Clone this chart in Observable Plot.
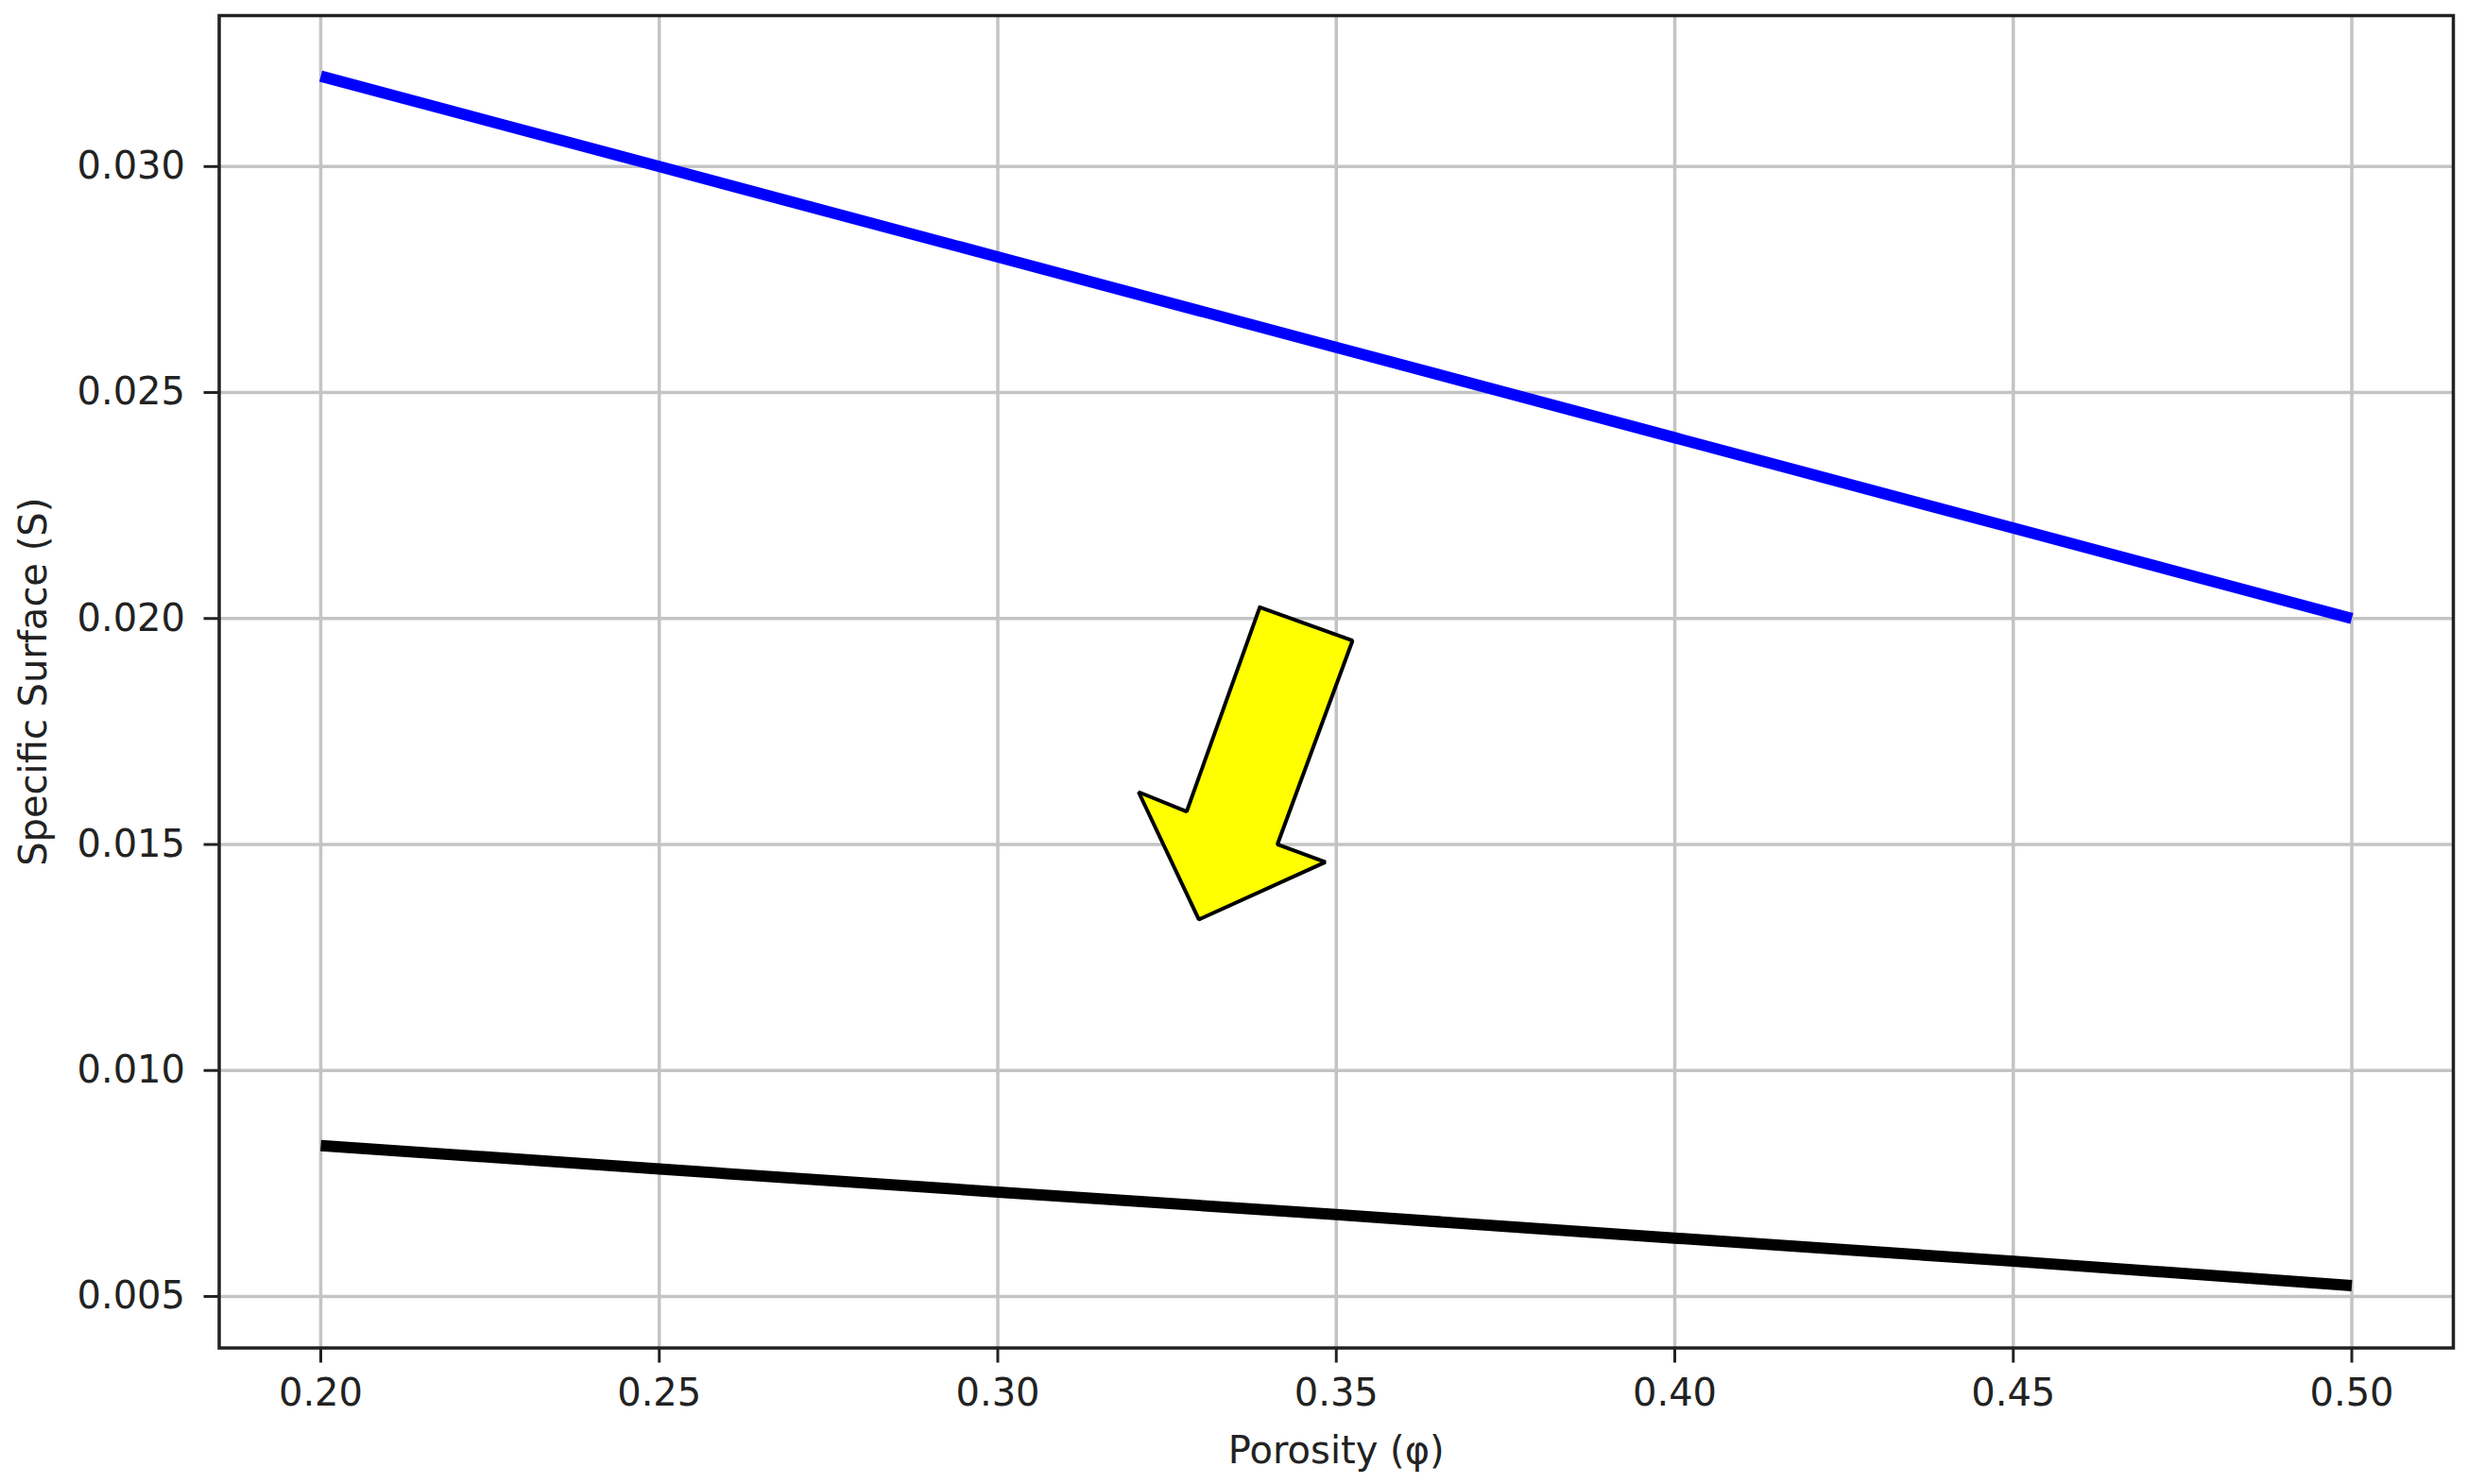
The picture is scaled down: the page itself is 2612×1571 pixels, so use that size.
<!DOCTYPE html>
<html>
<head>
<meta charset="utf-8">
<script src="https://cdn.jsdelivr.net/npm/d3@7"></script>
<script src="https://cdn.jsdelivr.net/npm/@observablehq/plot@0.6"></script>
<style>
  html, body { margin: 0; padding: 0; background: #fff; }
  svg { display: block; }
</style>
</head>
<body>
<div id="chart"></div>
<script>
// Data
const porosity = [0.20, 0.25, 0.30, 0.35, 0.40, 0.45, 0.50];
const surfaceBlue = [0.0320, 0.0300, 0.0280, 0.0260, 0.0240, 0.0220, 0.0200];
const surfaceBlack = [0.00834, 0.00782, 0.00731, 0.00681, 0.00629, 0.00578, 0.00524];

// Annotation arrow outline (data coordinates)
const arrowX = [0.3387, 0.3524, 0.3413, 0.3484, 0.3297, 0.3208, 0.3279, 0.3387];
const arrowY = [0.02025, 0.01951, 0.01500, 0.01461, 0.01334, 0.01616, 0.01573, 0.02025];

const xTicks = [0.20, 0.25, 0.30, 0.35, 0.40, 0.45, 0.50];
const yTicks = [0.005, 0.010, 0.015, 0.020, 0.025, 0.030];

const xLabel = "Porosity (φ)";
const yLabel = "Specific Surface (S)";

const blueData = porosity.map((p, i) => ({x: p, y: surfaceBlue[i]}));
const blackData = porosity.map((p, i) => ({x: p, y: surfaceBlack[i]}));
const arrowData = arrowX.map((x, i) => ({x, y: arrowY[i]}));

const chart = Plot.plot({
  width: 2612,
  height: 1571,
  marginLeft: 231.5,
  marginRight: 16,
  marginTop: 16,
  marginBottom: 144.5,
  style: {fontFamily: "DejaVu Sans", fontSize: "40px", background: "#fff", color: "#222"},
  x: {domain: [0.185, 0.515]},
  y: {domain: [0.00386, 0.03334]},
  marks: [
    Plot.gridX(xTicks, {stroke: "#c4c4c4", strokeOpacity: 1, strokeWidth: 3.5}),
    Plot.gridY(yTicks, {stroke: "#c4c4c4", strokeOpacity: 1, strokeWidth: 3.5}),
    Plot.line(blueData, {x: "x", y: "y", stroke: "#0000ff", strokeWidth: 12, strokeLinecap: "butt"}),
    Plot.line(blackData, {x: "x", y: "y", stroke: "#000", strokeWidth: 12, strokeLinecap: "butt"}),
    Plot.line(arrowData, {x: "x", y: "y", fill: "#ffff00", stroke: "#000", strokeWidth: 4, strokeLinejoin: "miter"}),
    Plot.frame({stroke: "#222", strokeWidth: 3.5}),
    Plot.axisX(xTicks, {
      tickSize: 16, tickPadding: 17, strokeWidth: 3,
      tickFormat: d3.format(".2f"), fontSize: 40,
      label: xLabel, labelAnchor: "center", labelArrow: "none", labelOffset: 122
    }),
    Plot.axisY(yTicks, {
      tickSize: 16, tickPadding: 20, strokeWidth: 3,
      tickFormat: d3.format(".3f"), fontSize: 40,
      label: yLabel, labelAnchor: "center", labelArrow: "none", labelOffset: 211
    })
  ]
});
document.getElementById("chart").appendChild(chart);
</script>
</body>
</html>
